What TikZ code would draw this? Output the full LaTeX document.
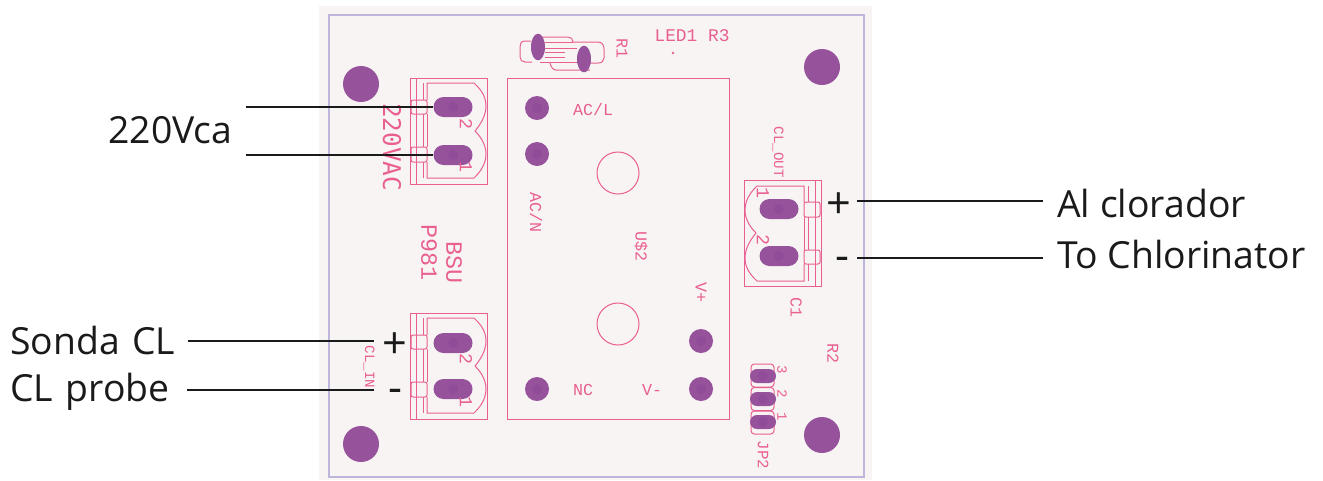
\documentclass[tikz,border=0pt]{standalone}
\usepackage{fontspec}
\usetikzlibrary{shapes.misc,shapes.geometric}
\setmainfont{Open Sans}
\newfontfamily\pcbfont{Liberation Mono}
\newfontfamily\pcbheavy{DejaVu Sans Mono}
\definecolor{boardbg}{HTML}{F8F4F4}
\definecolor{pcbpink}{HTML}{E95F90}
\definecolor{padpurple}{HTML}{96529B}
\definecolor{padcore}{HTML}{904C98}
\definecolor{edgelav}{HTML}{BDB5DC}
\definecolor{wireblack}{HTML}{1A1A1A}
\tikzset{
  pcbline/.style={draw=pcbpink,line width=0.6pt},
  padbig/.style={circle,fill=padpurple,draw=none,minimum size=21.6pt,inner sep=0pt},
  padmid/.style={circle,fill=padpurple,draw=none,minimum size=14.4pt,inner sep=0pt},
  padlong/.style={rounded rectangle,fill=padpurple,draw=none,minimum width=23.4pt,minimum height=12pt,inner sep=0pt},
  padjp/.style={rounded rectangle,fill=padpurple,draw=none,minimum width=15.6pt,minimum height=8.4pt,inner sep=0pt},
  padr/.style={ellipse,fill=padpurple,draw=none,minimum width=8.4pt,minimum height=16pt,inner sep=0pt},
  pcblab/.style={text=pcbpink,inner sep=0pt,font=\pcbfont\fontsize{10}{10}\selectfont},
  pcbsmall/.style={pcblab,font=\pcbfont\fontsize{8.5}{8.5}\selectfont},
  pinlab/.style={pcblab,font=\pcbfont\fontsize{11}{11}\selectfont},
  pcbbig/.style={pcblab,font=\pcbfont\fontsize{14}{14}\selectfont},
  rotlab/.style={rotate=-90},
  biglab/.style={text=wireblack,inner sep=0pt,font=\fontsize{22.4}{22.4}\selectfont},
  signlab/.style={biglab,font=\fontsize{26}{26}\selectfont},
  wire/.style={draw=wireblack,line width=1.7pt},
}
\newcommand{\termblock}{%
  \draw[pcbline] (0,0) rectangle (77,106);
  \draw[pcbline] (6,0) -- (6,106);
  \draw[pcbline] (13,5) -- (13,22) (13,36) -- (13,69) (13,84) -- (13,100);
  \draw[pcbline] (17,22) -- (17,5) -- (64,5)
     .. controls (68,9) and (76,16) .. (76,28)
     .. controls (76,38) and (70,47) .. (65,53)
     .. controls (70,58) and (76,66) .. (76,76)
     .. controls (76,88) and (68,96) .. (64,100) -- (17,100) -- (17,84);
  \draw[pcbline] (17,36) -- (17,69);
  \draw[pcbline,rounded corners=1.2pt] (1,22) rectangle (17,36);
  \draw[pcbline,rounded corners=1.2pt] (1,69) rectangle (17,84);
}
\newcommand{\padcore}[1]{\fill[padcore] (#1) circle (3pt);}
\newcommand{\plussign}{\smash{\raisebox{-10.6pt}{+}}}
\newcommand{\minussign}{\smash{\raisebox{-7.6pt}{-}}}
\begin{document}
\begin{tikzpicture}[x=0.6pt,y=-0.6pt]
\useasboundingbox (0,0) rectangle (1323,480);
\fill[white] (0,0) rectangle (1323,480);
\fill[boardbg] (319,6) rectangle (872,480);
\draw[draw=edgelav,line width=0.7pt] (329,15) rectangle (864,477);
% mounting holes
\node[padbig] (m1) at (361,84) {};
\node[padbig] (m2) at (822,67) {};
\node[padbig] (m3) at (361,444) {};
\node[padbig] (m4) at (822,435) {};
% relay module
\draw[pcbline] (507,78) rectangle (729,419);
\draw[pcbline] (618,173) circle (21);
\draw[pcbline] (618,324) circle (21);
\node[padmid] (acl) at (537,108) {};
\node[padmid] (acn) at (537,154) {};
\node[padmid] (nc) at (537,389) {};
\node[padmid] (vp) at (701,341) {};
\node[padmid] (vm) at (701,389) {};
\foreach \p in {acl,acn,nc,vp,vm} {\padcore{\p}}
\node[pcblab] (tacl) at (593,110) {AC/L};
\node[pcblab,rotlab] (tacn) at (536,212) {AC/N};
\node[pcblab,rotlab] (tu) at (641,246) {U\$2};
\node[pcblab,rotlab] (tvp) at (701,292) {V+};
\node[pcblab] (tvm) at (652,390) {V-};
\node[pcblab] (tnc) at (583,390) {NC};
% R1
\draw[pcbline] (531,41) -- (525,41) .. controls (521,41) and (520,44) .. (520,47) -- (520,57) .. controls (520,60) and (522,62) .. (525,62) -- (532,62);
\draw[pcbline] (538,37) -- (568,37) .. controls (571,37) and (573,39) .. (573,42) -- (598,42) .. controls (602,42) and (604,45) .. (604,49) -- (604,58) .. controls (604,61) and (602,63) .. (598,63) -- (590,63);
\draw[pcbline] (550,63) .. controls (551,67) and (553,70) .. (556,70) -- (590,70);
\draw[pcbline] (545,42) -- (573,42) (545,48) -- (577,48) (545,52) -- (565,52) (545,57) -- (565,57) (540,62) -- (578,62);
\node[padr] (r1a) at (538,47) {};
\node[padr] (r1b) at (584,59) {};
\node[pcblab,rotlab] (tr1) at (622,48) {R1};
\node[pcblab,font=\pcbfont\fontsize{10.7}{10.7}\selectfont] (tled) at (692,36) {LED1 R3};
\fill[pcbpink] (673,53) circle (0.8pt);
% terminal blocks
\begin{scope}[shift={(410,78)}]\termblock\end{scope}
\begin{scope}[shift={(410,313)}]\termblock\end{scope}
\begin{scope}[shift={(821,286)},xscale=-1,yscale=-1]\termblock\end{scope}
\node[padlong] (a2) at (453,107) {};
\node[padlong] (a1) at (453,155) {};
\node[padlong] (b2) at (453,343) {};
\node[padlong] (b1) at (453,389) {};
\node[padlong] (c1) at (779,209) {};
\node[padlong] (c2) at (779,256) {};
\foreach \p in {a2,a1,b2,b1,c1,c2} {\padcore{\p}}
\node[pinlab,rotlab] at (466,124) {2};
\node[pinlab,rotlab] at (466,167) {1};
\node[pinlab,rotlab] at (466,359) {2};
\node[pinlab,rotlab] at (466,402) {1};
\node[pinlab,rotlab] at (763,193) {1};
\node[pinlab,rotlab] at (763,240) {2};
\node[pcblab,font=\pcbheavy\fontsize{14.6}{14.6}\selectfont,rotlab] (t220) at (392,147) {220VAC};
\node[pcbbig,rotlab] (tbsu) at (454,262) {BSU};
\node[pcbbig,rotlab] (tp) at (429,252) {P981};
\node[pcbsmall,rotlab] (tin) at (369,367) {CL\_IN};
\node[pcbsmall,rotlab] (tout) at (778,152) {CL\_OUT};
\node[pcblab,rotlab] (tc1) at (796,307) {C1};
\node[pcblab,rotlab] (tr2) at (833,353) {R2};
% JP2
\foreach \yy in {364,387.5,411} {\draw[pcbline,rounded corners=2pt] (751,\yy) rectangle (774,\yy+23);}
\node[padjp] (j3) at (763,376) {};
\node[padjp] (j2) at (763,399) {};
\node[padjp] (j1) at (763,422) {};
\foreach \p in {j3,j2,j1} {\padcore{\p}}
\node[pcbsmall,rotlab] at (782,370) {3};
\node[pcbsmall,rotlab] at (782,394) {2};
\node[pcbsmall,rotlab] at (782,417) {1};
\node[pcblab,font=\pcbfont\fontsize{9.5}{9.5}\selectfont,rotlab] (tjp) at (763,455) {JP2};
% labels and wires
\node[biglab,anchor=west,text width=82.2pt,align=left] (l220) at (108,130) {220Vca};
\node[biglab,anchor=west,text width=106.2pt,align=left] (lson) at (10,340) {Sonda CL};
\node[biglab,anchor=west,text width=105.6pt,align=left] (lprobe) at (10,392) {CL probe};
\node[signlab,minimum width=25.2pt] (pl) at (395,341) {\plussign};
\node[signlab,minimum width=25.2pt] (ml) at (395,390) {\minussign};
\node[signlab,minimum width=21.6pt] (pr) at (839,201) {\plussign};
\node[signlab,minimum width=18pt] (mr) at (842,258) {\minussign};
\node[biglab,anchor=west,inner xsep=8.4pt] (lal) at (1043,203) {Al clorador};
\node[biglab,anchor=west,inner xsep=8.4pt] (lto) at (1043,254) {To Chlorinator};
\draw[wire] (l220.east |- a2.west) -- (a2.west);
\draw[wire] (l220.east |- a1.west) -- (a1.west);
\draw[wire] (lson.east |- pl.west) -- (pl.west);
\draw[wire] (lprobe.east |- ml.west) -- (ml.west);
\draw[wire] (pr.east) -- (pr.east -| lal.west);
\draw[wire] (mr.east) -- (mr.east -| lto.west);
\end{tikzpicture}
\end{document}
